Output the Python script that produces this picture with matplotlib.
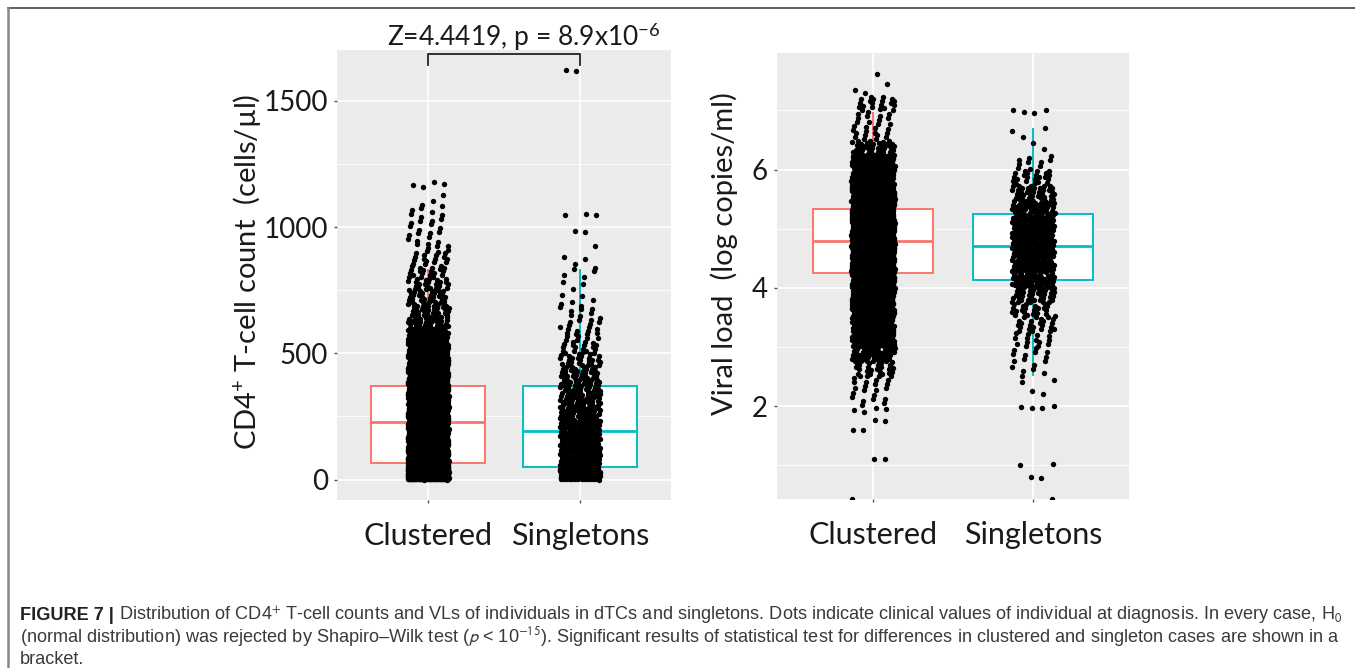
import numpy as np
import matplotlib
matplotlib.use("Agg")
import matplotlib.pyplot as plt
from matplotlib import font_manager
from matplotlib.lines import Line2D

plt.rcParams['font.family'] = ['Lato', 'DejaVu Sans']
plt.rcParams['mathtext.fontset'] = 'custom'
plt.rcParams['mathtext.rm'] = 'Lato'
plt.rcParams['mathtext.it'] = 'Lato:italic'
plt.rcParams['mathtext.bf'] = 'Lato:bold'

groups = ["Clustered", "Singletons"]
box_colors = ["#F8766D", "#00BFC4"]

# box statistics (q1, median, q3, lower/upper whisker end)
cd4_q1 = [67, 48]
cd4_med = [226, 194]
cd4_q3 = [372, 372]
cd4_lo = [0, 0]
cd4_hi = [830, 831]

vl_q1 = [4.25, 4.13]
vl_med = [4.79, 4.70]
vl_q3 = [5.33, 5.24]
vl_lo = [2.78, 2.53]
vl_hi = [6.95, 6.69]

# jittered points, estimated as point counts per value band
cd4_edges_clu = [0, 50, 100, 150, 200, 250, 300, 350, 400, 450, 500, 550,
                 600, 650, 700, 750, 800, 850, 900, 950, 1000, 1050, 1100, 1150]
cd4_counts_clu = [650, 280, 250, 250, 250, 240, 220, 190, 160, 130, 100, 80,
                  40, 35, 30, 25, 20, 15, 10, 8, 8, 6, 2]
cd4_extra_clu = [1160, 1165, 1172, 1180]

cd4_edges_sin = [0, 50, 100, 150, 200, 250, 300, 350, 400, 450, 500, 550,
                 600, 650, 700, 750, 800, 850, 900, 950]
cd4_counts_sin = [140, 55, 50, 50, 48, 45, 42, 38, 32, 25, 18, 14, 10, 8, 4, 3, 5, 3, 1]
cd4_extra_sin = [982, 986, 1046, 1049, 1051, 1617, 1621]

vl_edges_clu = [2.0, 2.25, 2.5, 2.75, 3.0, 3.25, 3.5, 3.75, 4.0, 4.25, 4.5,
                4.75, 5.0, 5.25, 5.5, 5.75, 6.0, 6.25, 6.5, 6.75, 7.0, 7.25]
vl_counts_clu = [8, 12, 25, 45, 70, 90, 110, 150, 200, 270, 300, 320, 300,
                 240, 180, 130, 80, 40, 15, 12, 20]
vl_extra_clu = [0.43, 1.1, 1.1, 1.6, 1.6, 1.75, 1.76, 1.9, 1.93, 1.95, 1.97,
                7.3, 7.35, 7.45, 7.62]

vl_edges_sin = [2.5, 2.75, 3.0, 3.25, 3.5, 3.75, 4.0, 4.25, 4.5, 4.75, 5.0,
                5.25, 5.5, 5.75, 6.0, 6.25]
vl_counts_sin = [6, 10, 14, 20, 25, 35, 48, 55, 60, 60, 55, 45, 35, 22, 10]
vl_extra_sin = [0.43, 0.78, 0.8, 1.0, 1.02, 1.97, 1.97, 1.98, 2.0, 2.2, 2.25,
                2.4, 2.45, 6.35, 6.45, 6.55, 6.65, 6.7, 6.95, 6.98, 7.0, 7.0]


def spread(edges, counts, extras, pos, width=0.135):
    # place each band's points evenly inside the band, jitter sideways
    ys = []
    for lo, hi, n in zip(edges[:-1], edges[1:], counts):
        k = np.arange(n)
        ys.append(lo + (hi - lo) * ((0.5 + k * 0.5698402910) % 1))
    ys.append(np.array(extras, dtype=float))
    y = np.concatenate(ys)
    k = np.arange(len(y))
    x = pos + width * (2 * ((0.5 + k * 0.7548776662) % 1) - 1)
    return x, y


def boxes(ax, q1, med, q3, lo, hi):
    for i in range(2):
        st = dict(med=med[i], q1=q1[i], q3=q3[i], whislo=lo[i], whishi=hi[i])
        c = box_colors[i]
        ax.bxp([st], positions=[i + 1], widths=0.75, showfliers=False, showcaps=False,
               patch_artist=True, manage_ticks=False,
               boxprops=dict(facecolor="white", edgecolor=c, linewidth=1.4),
               whiskerprops=dict(color=c, linewidth=1.4),
               medianprops=dict(color=c, linewidth=2.0), zorder=2)


def style(ax, major, minor, ylim):
    ax.set_facecolor("#EBEBEB")
    for s in ax.spines.values():
        s.set_visible(False)
    ax.set_axisbelow(True)
    ax.set_xlim(0.4, 2.6)
    ax.set_ylim(*ylim)
    ax.set_xticks([1, 2])
    ax.set_xticklabels(groups)
    ax.set_yticks(major)
    ax.set_yticks(minor, minor=True)
    ax.grid(True, which="major", color="white", linewidth=1.2)
    ax.grid(True, which="minor", axis="y", color="white", linewidth=0.6)
    ax.tick_params(axis="y", which="major", length=2.5, width=1, color="#555555",
                   labelsize=20, pad=4, labelcolor="#1a1a1a")
    ax.tick_params(axis="x", which="major", length=2.5, width=1, color="#555555",
                   labelsize=22, pad=13, labelcolor="#1a1a1a")
    ax.tick_params(which="minor", length=0)


fig = plt.figure(figsize=(13.55, 6.68), dpi=100)

ax1 = fig.add_axes([337 / 1355, 1 - 500 / 668, 334 / 1355, 450 / 668])
boxes(ax1, cd4_q1, cd4_med, cd4_q3, cd4_lo, cd4_hi)
for i, (e, c, x_) in enumerate([(cd4_edges_clu, cd4_counts_clu, cd4_extra_clu),
                                (cd4_edges_sin, cd4_counts_sin, cd4_extra_sin)]):
    px, py = spread(e, c, x_, i + 1)
    ax1.scatter(px, py, s=15, color="black", linewidths=0, zorder=3)
style(ax1, [0, 500, 1000, 1500], [250, 750, 1250], (-81, 1701))
ax1.set_ylabel("CD4$^{+}$ T-cell count  (cells/µl)", fontsize=21, color="#1a1a1a")
ax1.yaxis.set_label_coords(-0.222, 0.507)

# significance bracket
ax1.plot([1, 1, 2, 2], [1643, 1686, 1686, 1643], color="#222222", linewidth=1.3,
         zorder=4, solid_joinstyle="miter")
fig.text(524 / 1355, 1 - 37 / 668, "Z=4.4419, p = 8.9x10$^{-6}$", fontsize=19,
         ha="center", va="center", color="#1a1a1a")

ax2 = fig.add_axes([777 / 1355, 1 - 499 / 668, 352 / 1355, 446 / 668])
boxes(ax2, vl_q1, vl_med, vl_q3, vl_lo, vl_hi)
for i, (e, c, x_) in enumerate([(vl_edges_clu, vl_counts_clu, vl_extra_clu),
                                (vl_edges_sin, vl_counts_sin, vl_extra_sin)]):
    px, py = spread(e, c, x_, i + 1)
    ax2.scatter(px, py, s=15, color="black", linewidths=0, zorder=3)
style(ax2, [2, 4, 6], [1, 3, 5, 7], (0.43, 7.97))
ax2.set_ylabel("Viral load  (log copies/ml)", fontsize=21, color="#1a1a1a")
ax2.yaxis.set_label_coords(-0.112, 0.55)

# frame lines of the figure panel
fig.add_artist(Line2D([8 / 1355, 1], [1 - 8 / 668, 1 - 8 / 668], color="#444444", linewidth=1.2))
fig.add_artist(Line2D([8 / 1355, 8 / 1355], [0, 1 - 8 / 668], color="#888888", linewidth=1.8))

# caption
names = {f.name for f in font_manager.fontManager.ttflist}
cap_font = "Liberation Sans Narrow" if "Liberation Sans Narrow" in names else "Liberation Sans"
cap_fam = [cap_font, "DejaVu Sans"]
cap_color = "#3a3a3a"

line1 = ("Distribution of CD4$^{+}$ T-cell counts and VLs of individuals in dTCs and singletons. "
         "Dots indicate clinical values of individual at diagnosis. In every case, H$_0$")
line2 = ("(normal distribution) was rejected by Shapiro–Wilk test ($\\mathit{p}$ < 10$^{-15}$). "
         "Significant results of statistical test for differences in clustered and singleton cases are shown in a")
line3 = "bracket."

x0 = 20 / 1355
fs = 13
t2 = fig.text(x0, 1 - 642 / 668, line2, fontsize=fs, family=cap_fam, color=cap_color,
              va="baseline", math_fontfamily="stixsans")
r = fig.canvas.get_renderer()
w = t2.get_window_extent(r).width
fs = fs * 1314 / w
t2.set_fontsize(fs)

tb = fig.text(x0, 1 - 620 / 668, "FIGURE 7 | ", fontsize=fs, family=cap_fam, color="#222222",
              fontweight="bold", va="baseline")
fig.canvas.draw()
bb = tb.get_window_extent(fig.canvas.get_renderer())
fig.text(bb.x1 / fig.bbox.width, 1 - 620 / 668, line1, fontsize=fs, family=cap_fam,
         color=cap_color, va="baseline", math_fontfamily="stixsans")
fig.text(x0, 1 - 664 / 668, line3, fontsize=fs, family=cap_fam, color=cap_color,
         va="baseline")

fig.savefig("out.png", dpi=100)
